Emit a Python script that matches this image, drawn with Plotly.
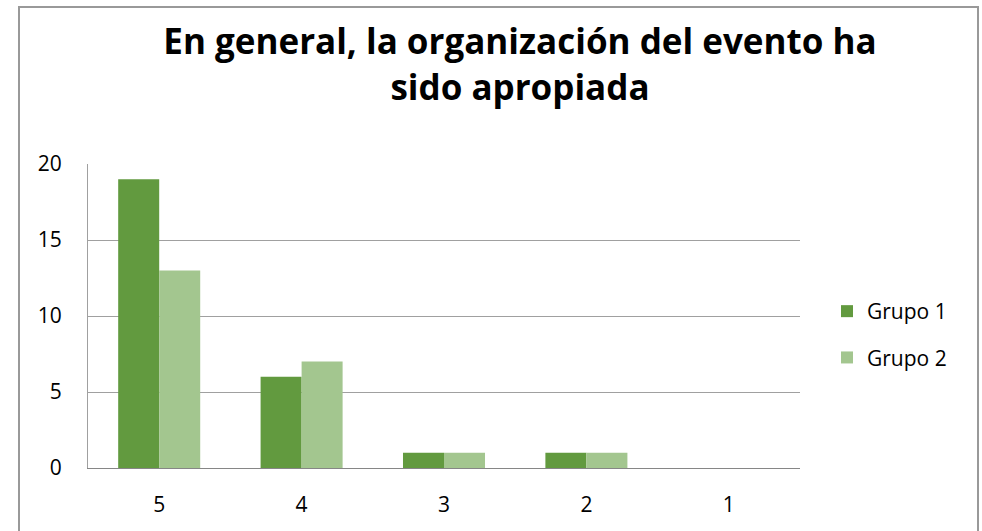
import plotly.graph_objects as go

categories = ["5", "4", "3", "2", "1"]
grupo1 = [19, 6, 1, 1, 0]
grupo2 = [13, 7, 1, 1, 0]
series_names = ["Grupo 1", "Grupo 2"]
title_text = "En general, la organización del evento ha<br>sido apropiada"

fig = go.Figure()
fig.add_trace(go.Bar(x=categories, y=grupo1, name=series_names[0],
                     marker=dict(color="#629A3F", line=dict(width=0)), legendgroup="g1"))
fig.add_trace(go.Bar(x=categories, y=grupo2, name=series_names[1],
                     marker=dict(color="#A3C68F", line=dict(width=0)), legendgroup="g2"))

W, H = 982, 531
L, R, T, B = 88, 800, 164, 468
pw, ph = R - L, B - T

FONT = "Open Sans, Lato, sans-serif"

fig.update_layout(
    width=W, height=H,
    margin=dict(l=L, r=W - R, t=T, b=H - B, autoexpand=False),
    paper_bgcolor="white", plot_bgcolor="white",
    font=dict(family=FONT, size=21, color="black"),
    title=dict(text="<b>" + title_text + "</b>", x=520 / W, xanchor="center",
               y=1 - 54 / H, yanchor="middle",
               font=dict(size=35, color="black", family=FONT)),
    barmode="group", bargap=0.424, bargroupgap=0,
    showlegend=True,
    legend=dict(x=(827 - L) / pw, xanchor="left", y=(B - 291) / ph, yanchor="top",
                font=dict(size=21), tracegroupgap=16, bgcolor="rgba(0,0,0,0)",
                itemwidth=30),
    xaxis=dict(type="category", showline=True, linecolor="#868686", linewidth=1,
               ticks="", showgrid=False, ticklabelstandoff=18,
               tickfont=dict(size=21)),
    yaxis=dict(range=[0, 20], dtick=5, showline=True, linecolor="#a0a0a0", linewidth=1,
               gridcolor="#a0a0a0", gridwidth=1, zeroline=False, ticks="",
               ticklabelstandoff=21, tickfont=dict(size=21)),
    shapes=[dict(type="rect", xref="paper", yref="paper",
                 x0=(19 - L) / pw, x1=(978 - L) / pw,
                 y0=(B - 560) / ph, y1=(B - 7) / ph,
                 line=dict(color="#999999", width=2), fillcolor="rgba(0,0,0,0)",
                 layer="above")],
)

fig.write_html(
    "out.html",
    config={"displayModeBar": False},
    post_script="document.body.style.margin='0';document.body.style.overflow='hidden';",
)
